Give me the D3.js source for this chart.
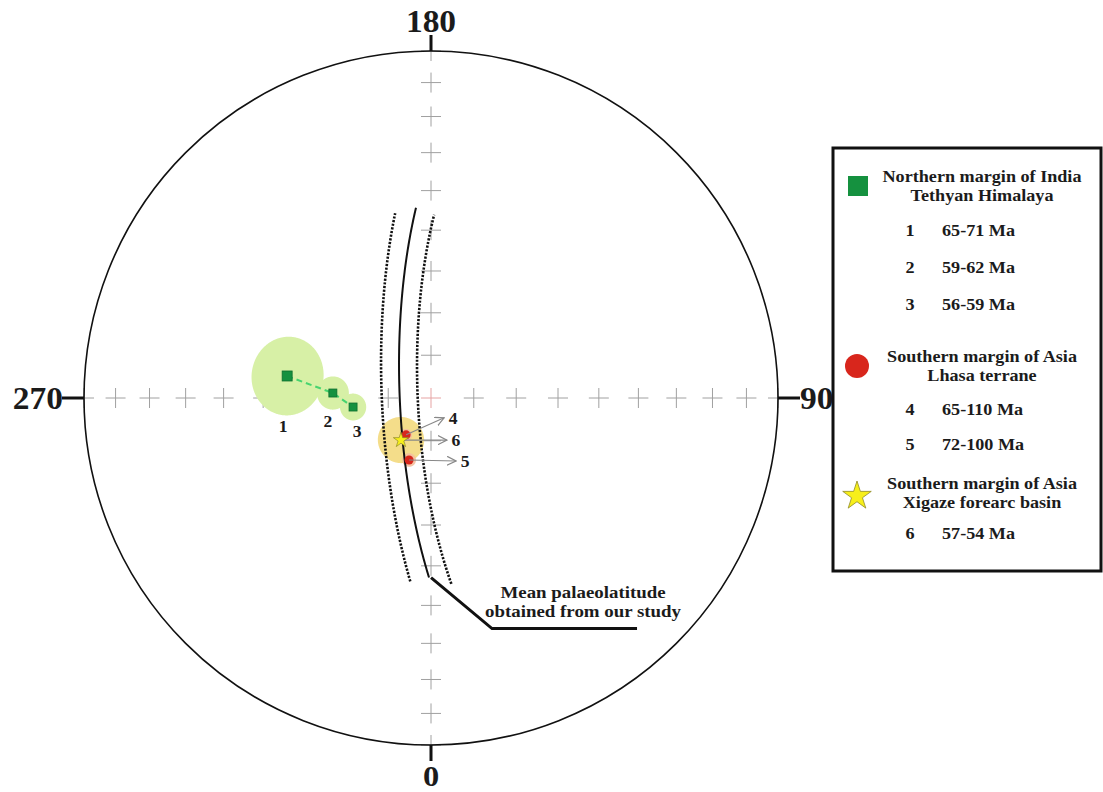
<!DOCTYPE html>
<html>
<head>
<meta charset="utf-8">
<script src="https://cdn.jsdelivr.net/npm/d3@7"></script>
<style>
  body { margin: 0; background: #fff; }
  svg { display: block; }
  text { font-family: "Liberation Serif", "Times New Roman", serif; font-weight: bold; fill: #1b1b1b; }
</style>
</head>
<body>
<svg id="chart" width="1103" height="792"></svg>
<script>
// Site-mean palaeomagnetic directions: declination, inclination, alpha95 (degrees)
const siteIds   = ["1", "2", "3", "4", "5", "6"];
const siteGroup = ["india", "india", "india", "lhasa", "lhasa", "xigaze"];
const siteDec   = [261.3, 267.1, 276.6, 326.0, 340.5, 324.5];
const siteInc   = [55.5, 66.9, 71.6, 79.6, 74.6, 77.9];
const siteA95   = [8.8, 3.8, 3.1, 1.4, 1.6, 5.4];
const siteAges  = ["65-71 Ma", "59-62 Ma", "56-59 Ma", "65-110 Ma", "72-100 Ma", "57-54 Ma"];

// Mean palaeolatitude small circle: pole (dec, inc), radius, error, bearing spans
const latPole     = [92.5, 19.1];
const latRadius   = 78.2;
const latError    = 4.2;
const latSpanMean = [-44, 47];
const latSpanOut  = [-44, 45];
const latSpanIn   = [-47, 46];

// Net: cardinal declinations and grid inclinations (10 degree steps)
const axisDecs   = [0, 90, 180, 270];
const axisLabels = ["0", "90", "180", "270"];
const gridIncs   = [80, 70, 60, 50, 40, 30, 20, 10, 0];

// Legend content
const groupKeys   = ["india", "lhasa", "xigaze"];
const groupTitles = [
  ["Northern margin of India", "Tethyan Himalaya"],
  ["Southern margin of Asia", "Lhasa terrane"],
  ["Southern margin of Asia", "Xigaze forearc basin"]
];
const annotationLines = ["Mean palaeolatitude", "obtained from our study"];

const W = 1103, H = 792;
const cx = 431, cy = 398, R = 347;
const rad = Math.PI / 180;

const svg = d3.select("#chart");

// Equal-area (Schmidt) net, 0 at bottom, 90 right
const proj = d3.geoAzimuthalEqualArea()
  .rotate([0, -90])
  .scale(R / Math.SQRT2)
  .translate([cx, cy])
  .clipAngle(90);
const geoPath = d3.geoPath(proj);

const colors = {
  india: "#15913f", lhasa: "#d8261c", xigaze: "#f7ef1a",
  indiaHalo: "#d7f0a6", lhasaHalo: "#f3c09e", xigazeHalo: "#f3da80"
};

function stext(g, str, x, y, size, sx, anchor) {
  return g.append("text")
    .attr("transform", `translate(${x},${y}) scale(${sx},1)`)
    .attr("font-size", size)
    .attr("text-anchor", anchor || "middle")
    .text(str);
}

// ---- grid crosses
const gGrid = svg.append("g");
const crossPts = [[0, 90]];
axisDecs.forEach(d => gridIncs.forEach(i => crossPts.push([d, i])));
crossPts.forEach((c, k) => {
  const [x, y] = proj(c);
  const col = k === 0 ? "#e6a3a3" : "#a0a0a0";
  gGrid.append("line").attr("x1", x - 10).attr("x2", x + 10).attr("y1", y).attr("y2", y)
    .attr("stroke", col).attr("stroke-width", 1);
  gGrid.append("line").attr("x1", x).attr("x2", x).attr("y1", y - 10).attr("y2", y + 10)
    .attr("stroke", col).attr("stroke-width", 1);
});

// ---- confidence circles
const sites = siteIds.map((id, i) => ({
  id, group: siteGroup[i], dec: siteDec[i], inc: siteInc[i], a95: siteA95[i], age: siteAges[i],
  p: proj([siteDec[i], siteInc[i]])
}));
const haloOrder = [0, 1, 2, 5, 4, 3];
const gHalo = svg.append("g");
haloOrder.forEach(i => {
  const s = sites[i];
  const circ = d3.geoCircle().center([s.dec, s.inc]).radius(s.a95).precision(1)();
  s.bounds = geoPath.bounds(circ);
  gHalo.append("path").attr("d", geoPath(circ))
    .attr("fill", colors[s.group + "Halo"])
    .attr("fill-opacity", s.group === "india" ? 1 : 0.92);
});

// ---- palaeolatitude small-circle arcs
function toVec([dec, inc]) {
  const d = dec * rad, i = inc * rad;
  return [Math.cos(i) * Math.sin(d), Math.cos(i) * Math.cos(d), Math.sin(i)];
}
function toDecInc([x, y, z]) {
  return [Math.atan2(x, y) / rad, Math.asin(Math.max(-1, Math.min(1, z))) / rad];
}
function smallArc(pole, radius, span) {
  const P = toVec(pole);
  let e1 = [-P[2] * P[0], -P[2] * P[1], 1 - P[2] * P[2]];
  const n1 = Math.hypot(...e1);
  e1 = e1.map(v => v / n1);
  const e2 = [P[1] * e1[2] - P[2] * e1[1], P[2] * e1[0] - P[0] * e1[2], P[0] * e1[1] - P[1] * e1[0]];
  const r = radius * rad;
  const ts = d3.range(span[0], span[1], 0.5).concat([span[1]]);
  return ts.map(t => {
    const tr = t * rad;
    const v = [0, 1, 2].map(k => Math.cos(r) * P[k] + Math.sin(r) * (Math.cos(tr) * e1[k] + Math.sin(tr) * e2[k]));
    return proj(toDecInc(v));
  });
}
const line = d3.line();
const gArc = svg.append("g").attr("fill", "none");
const meanArc = smallArc(latPole, latRadius, latSpanMean);
gArc.append("path").attr("d", line(smallArc(latPole, latRadius + latError, latSpanOut)))
  .attr("stroke", "#111").attr("stroke-width", 2.6).attr("stroke-dasharray", "2.2,1.5");
gArc.append("path").attr("d", line(smallArc(latPole, latRadius - latError, latSpanIn)))
  .attr("stroke", "#111").attr("stroke-width", 2.6).attr("stroke-dasharray", "2.2,1.5");
gArc.append("path").attr("d", line(meanArc))
  .attr("stroke", "#111").attr("stroke-width", 2);

// ---- India path (dashed connector) and markers
const india = sites.filter(s => s.group === "india");
svg.append("path").attr("d", line(india.map(s => s.p)))
  .attr("fill", "none").attr("stroke", "#48d46f").attr("stroke-width", 2)
  .attr("stroke-dasharray", "6,4");

const gMark = svg.append("g");
india.forEach((s, i) => {
  const sz = i === 0 ? 10 : 8;
  gMark.append("rect").attr("x", s.p[0] - sz / 2).attr("y", s.p[1] - sz / 2)
    .attr("width", sz).attr("height", sz)
    .attr("fill", colors.india).attr("stroke", "#0d6e2e").attr("stroke-width", 0.8);
});
const labelDx = { "1": -4, "2": -5, "3": 4 };
india.forEach(s => {
  stext(svg, s.id, s.p[0] + labelDx[s.id], s.bounds[1][1] + 17, 16, 1.1);
});

// arrows for Lhasa / Xigaze sites
const defs = svg.append("defs");
defs.append("marker").attr("id", "arr").attr("viewBox", "0 0 10 10")
  .attr("refX", 9).attr("refY", 5).attr("markerWidth", 10).attr("markerHeight", 10)
  .attr("markerUnits", "userSpaceOnUse").attr("orient", "auto")
  .append("path").attr("d", "M0,0.5 L9,5 L0,9.5").attr("fill", "none")
  .attr("stroke", "#888").attr("stroke-width", 1.2);

const arrowVec = { "4": [38, -17], "6": [46, 0], "5": [47, 1] };
["4", "6", "5"].forEach(id => {
  const s = sites.find(d => d.id === id);
  const v = arrowVec[id];
  const tip = [s.p[0] + v[0], s.p[1] + v[1]];
  svg.append("line").attr("x1", s.p[0]).attr("y1", s.p[1]).attr("x2", tip[0]).attr("y2", tip[1])
    .attr("stroke", "#888").attr("stroke-width", 1.1).attr("marker-end", "url(#arr)");
  stext(svg, id, tip[0] + 9, tip[1] + 6, 16, 1.1);
});

sites.filter(s => s.group === "lhasa").forEach(s => {
  gMark.append("circle").attr("cx", s.p[0]).attr("cy", s.p[1]).attr("r", 4.5)
    .attr("fill", colors.lhasa);
});
const starPlot = d3.symbol().type(d3.symbolStar).size(8 * 8 / 0.8908130915292852);
sites.filter(s => s.group === "xigaze").forEach(s => {
  svg.append("path").attr("d", starPlot()).attr("transform", `translate(${s.p[0]},${s.p[1]})`)
    .attr("fill", colors.xigaze).attr("stroke", "#8f8a2a").attr("stroke-width", 0.7);
});

// ---- primitive circle, cardinal ticks and labels
svg.append("circle").attr("cx", cx).attr("cy", cy).attr("r", R)
  .attr("fill", "none").attr("stroke", "#111").attr("stroke-width", 1.6);
const tickLen = { 0: 16, 90: 22, 180: 16, 270: 22 };
axisDecs.forEach((d, k) => {
  const [x, y] = proj([d, 0]);
  const ux = (x - cx) / R, uy = (y - cy) / R;
  const L = tickLen[d];
  const x2 = x + ux * L, y2 = y + uy * L;
  svg.append("line").attr("x1", x).attr("y1", y).attr("x2", x2).attr("y2", y2)
    .attr("stroke", "#111").attr("stroke-width", 3);
  if (d === 180) stext(svg, axisLabels[k], x2, y2 - 3, 31, 1.08, "middle");
  else if (d === 0) stext(svg, axisLabels[k], x2, y2 + 25, 30, 1.08, "middle");
  else if (d === 270) stext(svg, axisLabels[k], x2 + 1, y2 + 11, 31, 1.08, "end");
  else stext(svg, axisLabels[k], x2, y2 + 11, 31, 1.08, "start");
});

// ---- leader for the palaeolatitude annotation
const arcEnd = meanArc[0];
const elbow = [arcEnd[0] + 63, arcEnd[1] + 51];
svg.append("polyline")
  .attr("points", [[arcEnd[0] + 2, arcEnd[1]], elbow, [elbow[0] + 145, elbow[1]]].map(p => p.join(",")).join(" "))
  .attr("fill", "none").attr("stroke", "#111").attr("stroke-width", 3);
annotationLines.forEach((t, i) => {
  stext(svg, t, elbow[0] + 91, elbow[1] - 31 + i * 19, 16, 1.18, "middle");
});

// ---- legend
const lg = svg.append("g");
lg.append("rect").attr("x", 833).attr("y", 148).attr("width", 268).attr("height", 423)
  .attr("fill", "#fff").attr("stroke", "#111").attr("stroke-width", 3);
const titleY = [182, 362, 489];
const itemStart = [236, 415, 539];
const itemGap = [37, 35, 36];
groupKeys.forEach((key, gi) => {
  const ty = titleY[gi];
  groupTitles[gi].forEach((t, li) => stext(lg, t, 982, ty + li * 19, 16.5, 1.1, "middle"));
  const symY = ty + 4;
  if (key === "india") {
    lg.append("rect").attr("x", 848).attr("y", symY - 10).attr("width", 20).attr("height", 20)
      .attr("fill", colors.india);
  } else if (key === "lhasa") {
    lg.append("circle").attr("cx", 857).attr("cy", symY).attr("r", 12).attr("fill", colors.lhasa);
  } else {
    lg.append("path").attr("d", d3.symbol().type(d3.symbolStar).size(15 * 15 / 0.8908130915292852)())
      .attr("transform", `translate(857,${symY + 3})`)
      .attr("fill", colors.xigaze).attr("stroke", "#8f8a2a").attr("stroke-width", 0.8);
  }
  sites.filter(s => s.group === key).forEach((s, k) => {
    const y = itemStart[gi] + k * itemGap[gi];
    stext(lg, s.id, 910, y, 16.5, 1.1, "middle");
    stext(lg, s.age, 942, y, 16.5, 1.1, "start");
  });
});
</script>
</body>
</html>
